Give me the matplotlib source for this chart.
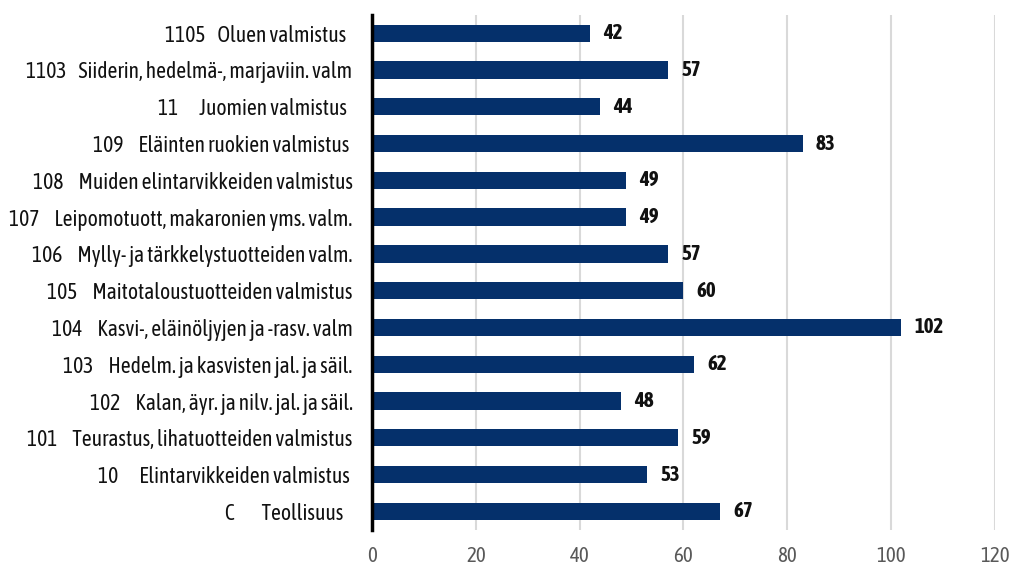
import matplotlib
matplotlib.use("Agg")
import matplotlib.pyplot as plt
from matplotlib import font_manager

# condensed font if we have it, preferably one with a bold face
fonts = font_manager.fontManager.ttflist
narrow = sorted(set(f.name for f in fonts if "Narrow" in f.name or "Condensed" in f.name))
with_bold = [n for n in narrow if any(f.name == n and f.weight in (700, "bold") for f in fonts)]
fam = (with_bold or narrow or ["DejaVu Sans"])[0]
plt.rcParams["font.family"] = [fam, "DejaVu Sans"]

codes = ["C", "10", "101", "102", "103", "104", "105", "106", "107", "108", "109", "11", "1103", "1105"]
names_fi = ["Teollisuus", "Elintarvikkeiden valmistus", "Teurastus, lihatuotteiden valmistus",
            "Kalan, äyr. ja nilv. jal. ja säil.", "Hedelm. ja kasvisten jal. ja säil.",
            "Kasvi-, eläinöljyjen ja -rasv. valm", "Maitotaloustuotteiden valmistus",
            "Mylly- ja tärkkelystuotteiden valm.", "Leipomotuott, makaronien yms. valm.",
            "Muiden elintarvikkeiden valmistus", "Eläinten ruokien valmistus",
            "Juomien valmistus", "Siiderin, hedelmä-, marjaviin. valm", "Oluen valmistus"]
values = [67, 53, 59, 48, 62, 102, 60, 57, 49, 49, 83, 44, 57, 42]
ticks = [0, 20, 40, 60, 80, 100, 120]

# codes sit in a padded column, like in the original sheet
gap = {1: 9, 2: 7, 3: 5, 4: 4}
trail = [3, 1, 0, 0, 0, 0, 0, 0, 0, 0, 1, 2, 0, 2]
labels = [c + " " * gap[len(c)] + n + " " * t for c, n, t in zip(codes, names_fi, trail)]

fig = plt.figure(figsize=(10.11, 5.69), dpi=100)
ax = fig.add_axes([0.368, 0.069, 0.616, 0.905])
y = range(len(values))
ax.barh(y, values, height=0.47, color="#05306B", zorder=3)
for i, v in enumerate(values):
    ax.annotate(str(v), (v, i), xytext=(9.5, 0), textcoords="offset points",
                va="center", ha="left", fontsize=15, fontweight="bold", color="#111111")

ax.set_xlim(0, 120)
ax.set_ylim(-0.5, len(values) - 0.5)
ax.set_xticks(ticks)
ax.set_yticks(list(y))
ax.set_yticklabels(labels, fontsize=15.5, color="#111111")
ax.tick_params(axis="x", colors="#595959", labelsize=15, length=0, pad=12)
ax.tick_params(axis="y", length=0, pad=14)
ax.grid(axis="x", color="#D9D9D9", linewidth=1.5, zorder=0)
for s in ["top", "right", "bottom"]:
    ax.spines[s].set_visible(False)
ax.spines["left"].set_linewidth(2.5)
ax.spines["left"].set_color("black")
ax.spines["left"].set_zorder(4)

fig.savefig("out.png", dpi=100)
